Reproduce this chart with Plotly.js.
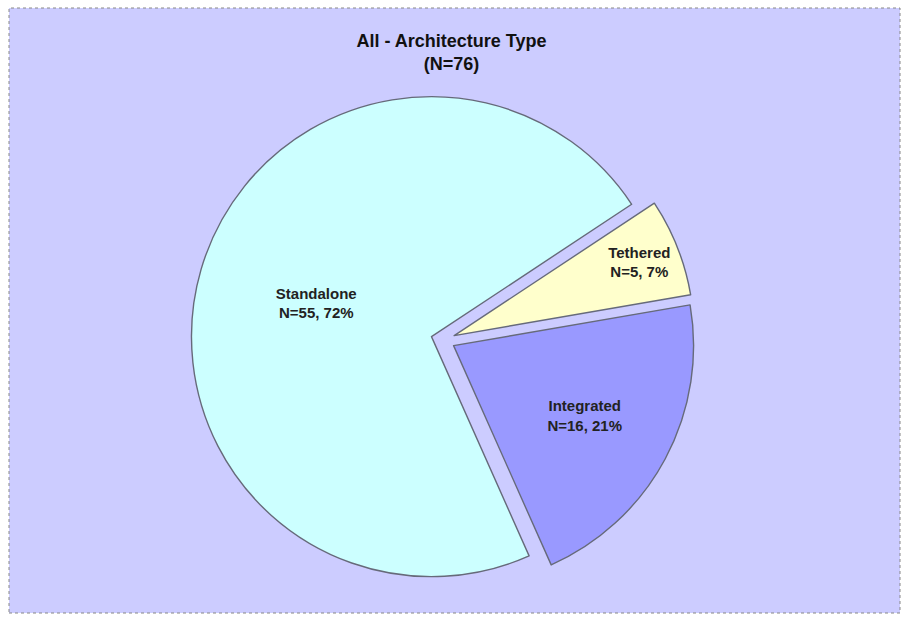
<!DOCTYPE html>
<html>
<head>
<meta charset="utf-8">
<script src="https://cdn.plot.ly/plotly-3.0.1.min.js"></script>
<style>html,body{margin:0;padding:0;background:#fff;}#chart{width:903px;height:621px;}</style>
</head>
<body>
<div id="chart"></div>
<script>
const categories = ["Standalone", "Tethered", "Integrated"];
const counts = [55, 5, 16];
const sliceColors = ["#CCFFFF", "#FFFFCC", "#9999FF"];
const chartTitle = "All - Architecture Type<br>(N=76)";

const W = 903, H = 621;
const trace = {
  type: "pie",
  labels: categories,
  values: counts,
  sort: false,
  direction: "clockwise",
  rotation: 156,
  pull: [0.05, 0.05, 0.05],
  marker: {colors: sliceColors, line: {color: "#666A7A", width: 1.4}},
  texttemplate: "%{label}<br>N=%{value}, %{percent:.0%}",
  textposition: "inside",
  insidetextorientation: "horizontal",
  textfont: {family: "Liberation Sans, Arial, sans-serif", size: 15, color: "#222222", weight: "bold"},
  hoverinfo: "label+value+percent",
  domain: {x: [(443 - 252) / W, (443 + 252) / W], y: [(H - 340 - 252) / H, (H - 340 + 252) / H]}
};

const layout = {
  width: W, height: H,
  margin: {l: 0, r: 0, t: 0, b: 0},
  paper_bgcolor: "#ffffff",
  showlegend: false,
  uniformtext: {minsize: 15, mode: "show"},
  title: {
    text: chartTitle,
    x: 0.5, xanchor: "center",
    y: 1 - 47 / H, yref: "container", yanchor: "top",
    font: {family: "Liberation Sans, Arial, sans-serif", size: 18, color: "#111111", weight: "bold"}
  },
  shapes: [{
    type: "rect", xref: "paper", yref: "paper", layer: "below",
    x0: 9 / W, x1: 900 / W, y0: 1 - 613 / H, y1: 1 - 8 / H,
    fillcolor: "#CCCCFF",
    line: {color: "#888888", width: 1, dash: "dot"}
  }]
};

Plotly.newPlot("chart", [trace], layout, {displayModeBar: false, staticPlot: true});
</script>
</body>
</html>
